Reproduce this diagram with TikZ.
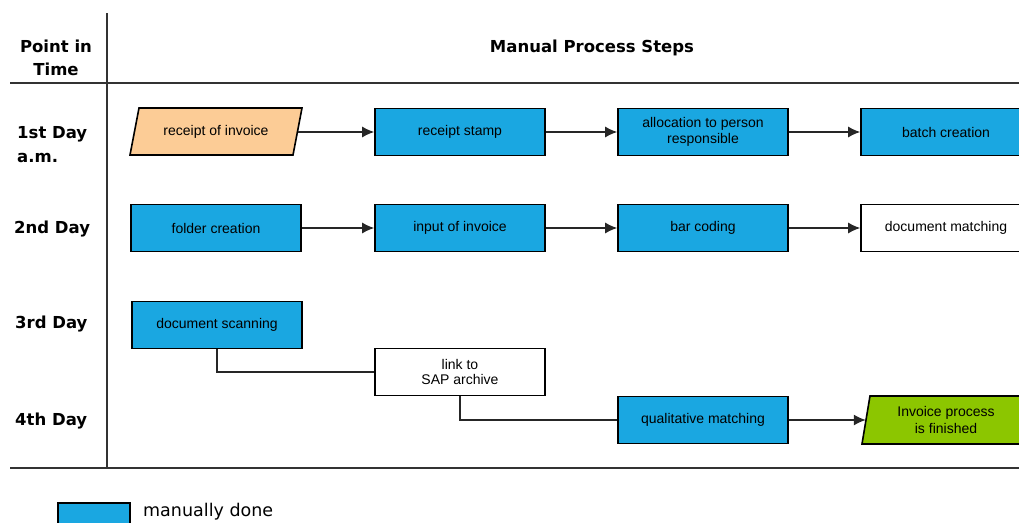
\documentclass[tikz,border=0pt]{standalone}
\usepackage{fontspec}
\setmainfont{Liberation Sans}
\newfontfamily\dvs{DejaVu Sans}
\usetikzlibrary{arrows.meta}
\definecolor{boxblue}{RGB}{26,167,225}
\definecolor{peach}{RGB}{252,204,150}
\definecolor{lime}{RGB}{140,198,0}
\begin{document}
\begin{tikzpicture}[x=1pt,y=-1pt,
  proc/.style={draw=black, line width=1.6pt, fill=boxblue, minimum width=170pt, minimum height=47pt, inner sep=0pt, align=center, font=\fontsize{14}{15.5}\selectfont},
  plainbox/.style={proc, fill=white},
  ghost/.style={inner sep=0pt, minimum height=47pt, align=center, font=\fontsize{14}{17}\selectfont},
  lab/.style={font=\dvs\bfseries\fontsize{16.5}{23}\selectfont, inner sep=0pt, align=left},
  conn/.style={line width=1.3pt, draw=black!85},
  arr/.style={conn, -{Latex[length=12pt,width=11pt]}},
  tbl/.style={line width=1.5pt, draw=black!80}
]
\useasboundingbox (0,0) rectangle (1019,522);
\clip (0,0) rectangle (1019,522);

% table rules
\draw[tbl] (107,13) -- (107,468);
\draw[tbl] (10,83) -- (1019,83);
\draw[tbl] (10,468) -- (1019,468);

% headers
\node[lab, align=center] (hpt) at (56,58) {Point in\\Time};
\node[lab] (hms) at (592,48) {Manual Process Steps};

% row labels
\node[lab, anchor=base west] (d1) at (17,138) {1st Day};
\node[lab, anchor=base west] (d1b) at (17,162) {a.m.};
\node[lab, anchor=base west] (d2) at (14,233) {2nd Day};
\node[lab, anchor=base west] (d3) at (15,328) {3rd Day};
\node[lab, anchor=base west] (d4) at (15,425) {4th Day};

% row 1
\draw[line width=1.6pt, fill=peach] (130,155) -- (139,108) -- (302,108) -- (293,155) -- cycle;
\node[ghost, minimum width=163pt] (rcpt) at (216,132) {receipt of invoice};
\node[proc] (stamp) at (460,132) {receipt stamp};
\node[proc] (alloc) at (703,132) {allocation to person\\responsible};
\node[proc] (batch) at (946,132) {batch creation};

% row 2
\node[proc] (folder) at (216,228) {folder creation};
\node[proc] (input) at (460,228) {input of invoice};
\node[proc] (bar) at (703,228) {bar coding};
\node[plainbox] (docm) at (946,228) {document matching};

% row 3 / 4
\node[proc] (scan) at (217,325) {document scanning};
\node[plainbox] (sap) at (460,372) {link to\\SAP archive};
\node[proc] (qual) at (703,420) {qualitative matching};
\draw[line width=1.6pt, fill=lime] (870,396) -- (1030,396) -- (1030,444) -- (862,444) -- cycle;
\node[ghost, minimum width=160pt] (inv) at (946,420) {Invoice process\\is finished};

% connectors
\draw[arr] (rcpt.east) -- (stamp.west);
\draw[arr] (stamp.east) -- (alloc.west);
\draw[arr] (alloc.east) -- (batch.west);
\draw[arr] (folder.east) -- (input.west);
\draw[arr] (input.east) -- (bar.west);
\draw[arr] (bar.east) -- (docm.west);
\draw[conn] (scan.south) |- (sap.west);
\draw[conn] (sap.south) |- (qual.west);
\draw[arr] (qual.east) -- (inv.west);

% legend
\node[draw=black, line width=1.6pt, fill=boxblue, minimum width=72pt, minimum height=30pt, inner sep=0pt] (leg) at (94,518) {};
\node[anchor=base west, inner sep=0pt, font=\dvs\fontsize{17.5}{20}\selectfont] (legt) at (143,516) {manually done};
\end{tikzpicture}
\end{document}
